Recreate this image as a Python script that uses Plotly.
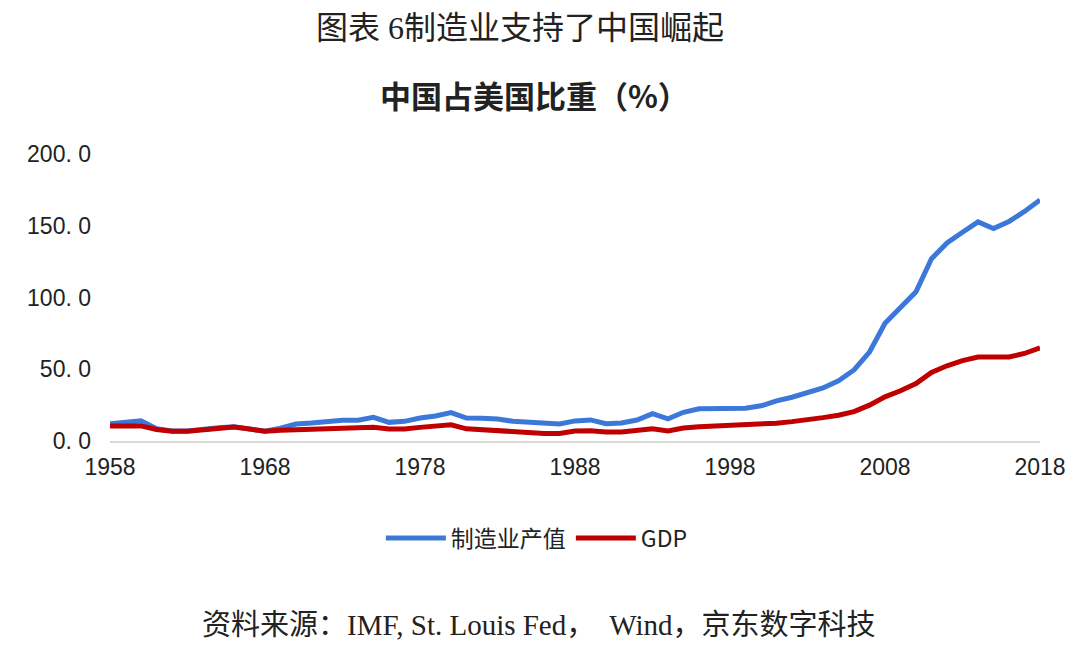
import plotly.graph_objects as go

years = list(range(1958, 2019))
manufacturing = [12.0, 13.0, 14.0, 8.5, 7.0, 7.0, 8.3, 9.3, 10.0, 8.3, 6.8, 9.0,
                 11.8, 12.5, 13.5, 14.5, 14.5, 16.5, 13.0, 13.7, 16.0, 17.4,
                 19.8, 16.0, 15.8, 15.3, 13.7, 13.0, 12.3, 11.8, 14.0, 14.7,
                 12.0, 12.5, 14.6, 19.0, 15.5, 20.0, 22.5, 22.5, 22.5, 22.8,
                 24.5, 28.0, 30.5, 33.5, 37.0, 42.0, 49.5, 62.0, 82.0, 93.0,
                 104.0, 127.0, 138.0, 145.5, 152.7, 148.0, 153.0, 160.0, 168.0]
gdp = [10.5, 10.5, 10.5, 8.0, 6.8, 6.8, 8.0, 9.0, 9.8, 8.3, 6.8, 7.5,
       7.8, 8.3, 8.5, 9.3, 9.3, 9.5, 8.3, 8.3, 9.5, 10.3,
       11.3, 8.5, 7.8, 7.5, 6.8, 6.0, 5.3, 5.3, 7.0, 7.2,
       6.3, 6.3, 7.4, 8.6, 7.0, 9.0, 10.0, 10.5, 10.5, 10.8,
       11.5, 12.4, 13.5, 14.7, 16.3, 18.0, 20.5, 25.0, 30.8, 35.0,
       40.0, 47.8, 52.4, 56.0, 58.5, 58.5, 58.5, 61.0, 65.0]

series_names = ["制造业产值", "GDP"]
x_ticks = [1958, 1968, 1978, 1988, 1998, 2008, 2018]
y_ticks = [0, 50, 100, 150, 200]
y_ticktext = ["0. 0", "50. 0", "100. 0", "150. 0", "200. 0"]

title = "图表 6制造业支持了中国崛起"
subtitle = "中国占美国比重（%）"
source = "资料来源：IMF, St. Louis Fed，  Wind，京东数字科技"

sans = "Noto Sans CJK SC, Liberation Sans, sans-serif"
serif = "Liberation Serif, Noto Sans CJK SC, serif"

fig = go.Figure()
fig.add_trace(go.Scatter(x=years, y=manufacturing, mode="lines", name=series_names[0],
                         line=dict(color="#3c78d8", width=5)))
fig.add_trace(go.Scatter(x=years, y=gdp, mode="lines", name=series_names[1],
                         line=dict(color="#c00000", width=5)))

fig.update_layout(
    width=1080, height=645,
    paper_bgcolor="white", plot_bgcolor="white",
    margin=dict(l=102, r=48, t=146, b=212),
    showlegend=True,
    legend=dict(orientation="h", x=0.459, xanchor="center", y=-0.338, yanchor="middle",
                font=dict(family=sans, size=23, color="#222"), itemwidth=60),
    xaxis=dict(range=[1958, 2018], tickmode="array", tickvals=x_ticks,
               showgrid=False, zeroline=False, showline=True, linecolor="#d9d9d9",
               linewidth=2, ticks="", ticklabelstandoff=4,
               tickfont=dict(family="Liberation Sans, sans-serif", size=23, color="#222")),
    yaxis=dict(range=[0, 200], tickmode="array", tickvals=y_ticks, ticktext=y_ticktext,
               showgrid=False, zeroline=False, showline=False, ticks="",
               ticklabelstandoff=18,
               tickfont=dict(family="Liberation Sans, sans-serif", size=23, color="#222")),
    annotations=[
        dict(text=title, xref="paper", yref="paper", x=0.441, y=1.439, showarrow=False,
             xanchor="center", yanchor="middle", font=dict(family=serif, size=32, color="#222")),
        dict(text="<b>" + subtitle + "</b>", xref="paper", yref="paper", x=0.456, y=1.206,
             showarrow=False, xanchor="center", yanchor="middle",
             font=dict(family=sans, size=31, color="#222")),
        dict(text=source, xref="paper", yref="paper", x=0.461, y=-0.641, showarrow=False,
             xanchor="center", yanchor="middle", font=dict(family=serif, size=29, color="#222")),
    ],
)

fig.write_html("out.html")
